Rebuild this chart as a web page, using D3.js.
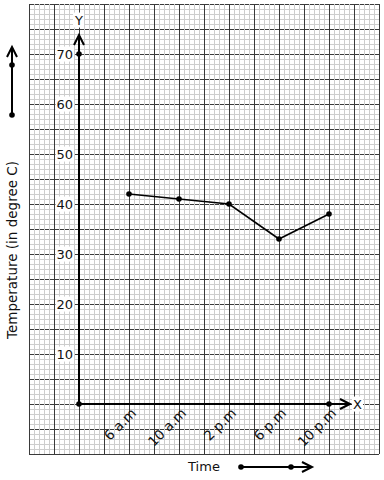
<!DOCTYPE html>
<html><head><meta charset="utf-8">
<script src="https://cdn.jsdelivr.net/npm/d3@7"></script>
<style>body{margin:0;background:#fff}svg{display:block}text{font-family:"DejaVu Sans",sans-serif;}</style>
</head><body>
<svg id="c" width="384" height="480"></svg>
<script>
const categories = ["6 a.m", "10 a.m", "2 p.m", "6 p.m", "10 p.m"];
const temperatures = [42, 41, 40, 33, 38];
const yTicks = [10, 20, 30, 40, 50, 60, 70];
const axisPoints = [[0, 0], [0, 70], [5, 0]];

const svg = d3.select("#c");
const x = d3.scaleLinear().domain([-1, 6]).range([29, 379]);
const y = d3.scaleLinear().domain([-10, 80]).range([454, 4]);

const grid = svg.append("g");
grid.selectAll(".hM").data(d3.range(-10, 81, 5)).join("line")
  .attr("x1", x(-1)).attr("x2", x(6)).attr("y1", d => y(d)).attr("y2", d => y(d))
  .attr("stroke", "#3a3a3a").attr("stroke-width", 1).attr("shape-rendering", "crispEdges");
grid.selectAll(".hm").data(d3.range(-10, 81, 1).filter(d => d % 5 !== 0)).join("line")
  .attr("x1", x(-1)).attr("x2", x(6)).attr("y1", d => y(d)).attr("y2", d => y(d))
  .attr("stroke", "#cdcdcd").attr("stroke-width", 1).attr("shape-rendering", "crispEdges");
grid.selectAll(".vm").data(d3.range(-10, 61, 1).filter(d => d % 5 !== 0)).join("line")
  .attr("x1", d => x(d / 10)).attr("x2", d => x(d / 10)).attr("y1", y(-10)).attr("y2", y(80))
  .attr("stroke", "#cdcdcd").attr("stroke-width", 1).attr("shape-rendering", "crispEdges");
grid.selectAll(".vM").data(d3.range(-10, 61, 5)).join("line")
  .attr("x1", d => x(d / 10)).attr("x2", d => x(d / 10)).attr("y1", y(-10)).attr("y2", y(80))
  .attr("stroke", "#3a3a3a").attr("stroke-width", 1).attr("shape-rendering", "crispEdges");

function bgText(g, t) {
  const b = t.node().getBBox();
  g.insert("rect", () => t.node()).attr("x", b.x - 1).attr("y", b.y).attr("width", b.width + 2).attr("height", b.height).attr("fill", "#fff");
}

yTicks.forEach(v => {
  const g = svg.append("g");
  const t = g.append("text").attr("x", x(0) - 6).attr("y", y(v)).attr("dy", "0.35em")
    .attr("text-anchor", "end").attr("font-size", 13).attr("fill", "#111").text(v);
  bgText(g, t);
});

const ax = svg.append("g").attr("stroke", "#000").attr("stroke-width", 2).attr("fill", "none");
ax.append("line").attr("x1", x(0)).attr("x2", x(0)).attr("y1", y(0)).attr("y2", y(73.8));
ax.append("path").attr("d", `M${x(0) - 5},${y(73.8) + 10}L${x(0)},${y(73.8)}L${x(0) + 5},${y(73.8) + 10}`);
ax.append("line").attr("x1", x(0)).attr("x2", x(5.42)).attr("y1", y(0)).attr("y2", y(0));
ax.append("path").attr("d", `M${x(5.42) - 10},${y(0) - 5}L${x(5.42)},${y(0)}L${x(5.42) - 10},${y(0) + 5}`);

{
  const g = svg.append("g");
  const t = g.append("text").attr("x", x(0)).attr("y", y(76.8)).attr("dy", "0.35em").attr("text-anchor", "middle").attr("font-size", 13).attr("fill", "#111").text("Y");
  bgText(g, t);
  const g2 = svg.append("g");
  const t2 = g2.append("text").attr("x", x(5.42) + 3).attr("y", y(0)).attr("dy", "0.35em").attr("text-anchor", "start").attr("font-size", 13).attr("fill", "#111").text("X");
  bgText(g2, t2);
}

categories.forEach((c, i) => {
  svg.append("text").attr("text-anchor", "end").attr("font-size", 13.5).attr("fill", "#111")
    .attr("transform", `translate(${x(i + 1) + 8},${y(0) + 10}) rotate(-45)`).text(c);
});

const line = d3.line().x((d, i) => x(i + 1)).y(d => y(d));
svg.append("path").datum(temperatures).attr("d", line).attr("fill", "none").attr("stroke", "#000").attr("stroke-width", 1.6);
svg.selectAll(".pt").data(temperatures).join("circle").attr("cx", (d, i) => x(i + 1)).attr("cy", d => y(d)).attr("r", 2.8).attr("fill", "#000");
svg.selectAll(".ap").data(axisPoints).join("circle").attr("cx", d => x(d[0])).attr("cy", d => y(d[1])).attr("r", 2.8).attr("fill", "#000");

const la = svg.append("g").attr("stroke", "#000").attr("stroke-width", 2).attr("fill", "none");
la.append("line").attr("x1", 12).attr("x2", 12).attr("y1", 115).attr("y2", 47);
la.append("path").attr("d", "M7,57L12,47L17,57");
svg.append("circle").attr("cx", 12).attr("cy", 65).attr("r", 2.8);
svg.append("circle").attr("cx", 12).attr("cy", 115).attr("r", 2.8);

svg.append("text").attr("transform", "translate(17,250) rotate(-90)").attr("text-anchor", "middle").attr("font-size", 13.5).attr("fill", "#111").text("Temperature (in degree C)");

svg.append("text").attr("x", 204).attr("y", 471).attr("text-anchor", "middle").attr("font-size", 13).attr("fill", "#111").text("Time");
const ba = svg.append("g").attr("stroke", "#000").attr("stroke-width", 2).attr("fill", "none");
ba.append("line").attr("x1", 241).attr("x2", 312).attr("y1", 467).attr("y2", 467);
ba.append("path").attr("d", "M302,462L312,467L302,472");
svg.append("circle").attr("cx", 241).attr("cy", 467).attr("r", 2.8);
svg.append("circle").attr("cx", 291).attr("cy", 467).attr("r", 2.8);
</script>
</body></html>
